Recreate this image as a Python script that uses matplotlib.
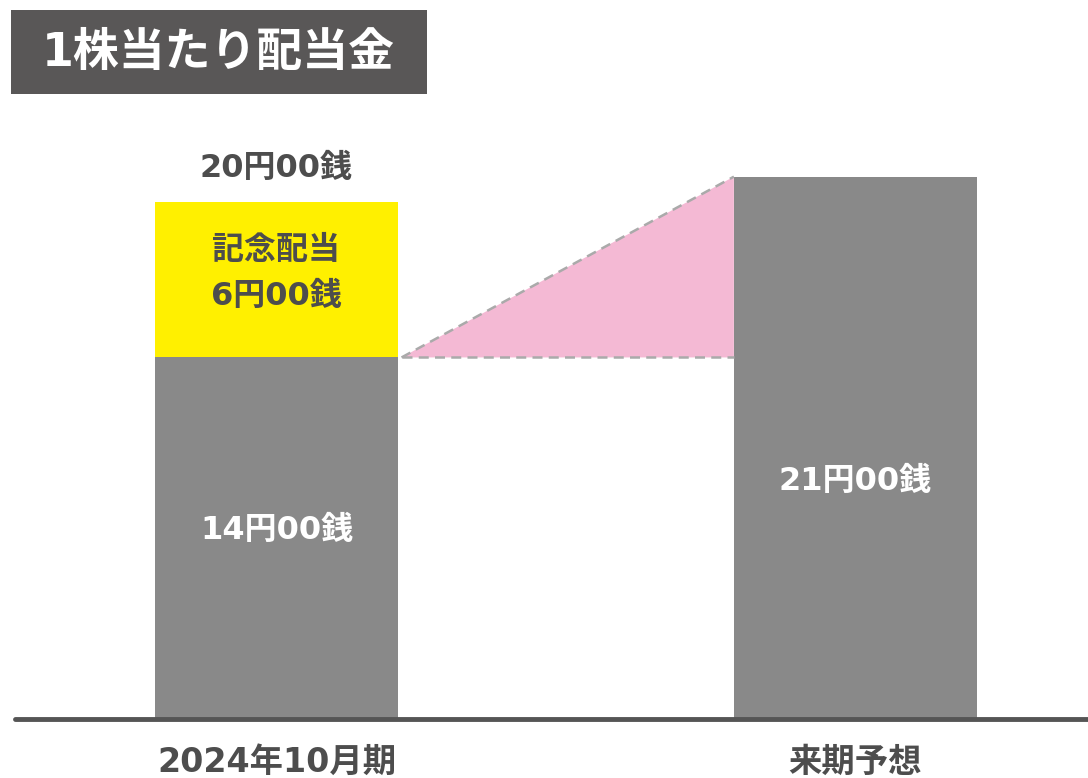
import matplotlib.pyplot as plt
from matplotlib.patches import Polygon, Rectangle

plt.rcParams['font.family'] = ['DejaVu Sans', 'Noto Sans CJK JP']

# data
periods = ['2024年10月期', '来期予想']
base_values = [14, 21]
special_values = [6, 0]
base_labels = ['14円00銭', '21円00銭']
total_label = '20円00銭'
special_name = '記念配当'
special_label = '6円00銭'
title = '1株当たり配当金'

gray = '#898989'
yellow = '#FFF000'
pink = '#F4B9D4'
text_dark = '#4D4D4D'

fig = plt.figure(figsize=(10.88, 7.78), dpi=100)
ax = fig.add_axes([0, 0, 1, 1])
ax.set_xlim(-0.4775, 1.4016)
ax.set_ylim(-2.284, 27.84)
ax.axis('off')

x = [0, 1]
width = 0.42
ax.bar(x, base_values, width=width, color=gray, zorder=2)
ax.bar(x[0], special_values[0], width=width, bottom=base_values[0], color=yellow, zorder=2)

# growth wedge between bars
x0 = x[0] + width / 2 + 0.006
x1 = x[1] - width / 2
wedge = Polygon([(x0, base_values[0]), (x1, base_values[1]), (x1, base_values[0])],
                closed=True, facecolor=pink, edgecolor='none', zorder=1)
ax.add_patch(wedge)
ax.plot([x0, x1], [base_values[0], base_values[1]], ls=(0, (4, 2.5)), color='#AAAAAA', lw=1.8, zorder=3)
ax.plot([x0, x1], [base_values[0], base_values[0]], ls=(0, (4, 2.5)), color='#AAAAAA', lw=1.8, zorder=3)

# baseline
ax.plot([-0.452, 1.4016], [0, 0], color='#555555', lw=3.5, solid_capstyle='round', zorder=4)

# labels
fs = 23
total = base_values[0] + special_values[0]
ax.text(x[0], total + 1.3, total_label, ha='center', va='center', fontsize=fs,
        fontweight='bold', color=text_dark)
ax.text(x[0], total - 1.85, special_name, ha='center', va='center',
        fontsize=fs, fontweight='bold', color=text_dark)
ax.text(x[0], total - 3.65, special_label, ha='center', va='center',
        fontsize=fs, fontweight='bold', color=text_dark)
ax.text(x[0], base_values[0] / 2 + 0.3, base_labels[0], ha='center', va='center', fontsize=fs,
        fontweight='bold', color='white')
ax.text(x[1], base_values[1] / 2 - 1.3, base_labels[1], ha='center', va='center', fontsize=fs,
        fontweight='bold', color='white')
for xi, p in zip(x, periods):
    ax.text(xi, -1.66, p, ha='center', va='center', fontsize=24, fontweight='bold', color=text_dark)

# title box
fig.add_artist(Rectangle((11 / 1088, 1 - 94 / 778), 416 / 1088, 84 / 778,
                         transform=fig.transFigure, facecolor='#595757', edgecolor='none'))
fig.text(218 / 1088, 1 - 54 / 778, title, ha='center', va='center', fontsize=33,
         fontweight='bold', color='white')

fig.savefig('out.png', dpi=100)
